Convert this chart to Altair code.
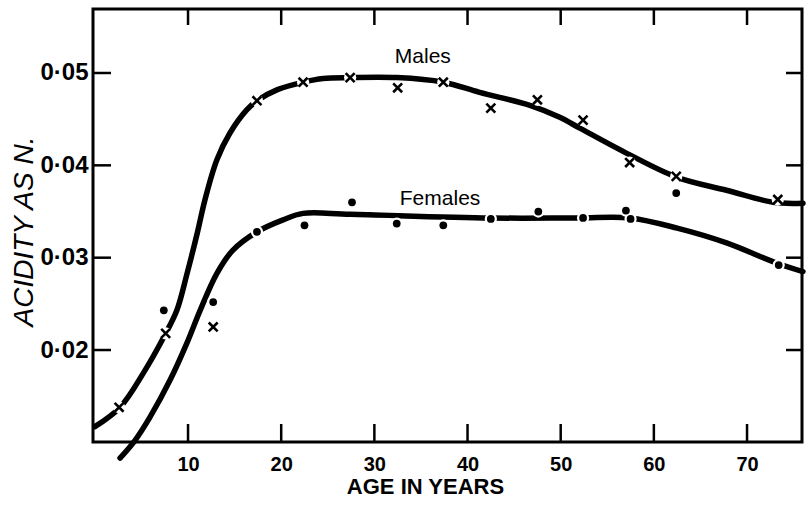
import altair as alt
import pandas as pd

# ---- data ----
male_age = [2.6, 7.6, 12.7, 17.4, 22.35, 27.4, 32.5, 37.4, 42.5, 47.5, 52.4, 57.4, 62.4, 73.3]
male_acid = [0.0138, 0.0218, 0.0225, 0.0470, 0.0490, 0.0495, 0.0484, 0.0490, 0.0462, 0.0471,
             0.0449, 0.0403, 0.0388, 0.0363]

female_age = [7.4, 12.7, 17.4, 22.5, 27.6, 32.4, 37.4, 42.5, 47.6, 52.4, 57.0, 57.5, 62.4, 73.4]
female_acid = [0.0243, 0.0252, 0.0328, 0.0335, 0.0360, 0.0337, 0.0335, 0.0342, 0.0350, 0.0343,
               0.0351, 0.0342, 0.0370, 0.0292]

male_curve_age = [0.0, 2.7, 5.2, 7.5, 8.8, 9.9, 11.0, 11.8, 13.1, 14.5, 16.3, 17.4, 19.6, 22.35,
                  24.5, 27.4, 32.4, 37.4, 41.3, 46.7, 49.9, 52.1, 57.1, 62.5, 67.8, 72.8, 76.0]
male_curve_acid = [0.0117, 0.0138, 0.0175, 0.0216, 0.0243, 0.0283, 0.0327, 0.0362, 0.0406,
                   0.0435, 0.0460, 0.0470, 0.0482, 0.0490, 0.0494, 0.0495, 0.0495, 0.0490,
                   0.0479, 0.0465, 0.0452, 0.0440, 0.0413, 0.0387, 0.0373, 0.0360, 0.0359]

female_curve_age = [2.7, 4.3, 5.9, 8.1, 9.9, 11.3, 13.1, 14.8, 17.4, 20.2, 22.35, 27.4, 42.4,
                    51.8, 57.4, 62.5, 67.8, 73.2, 76.0]
female_curve_acid = [0.0083, 0.0102, 0.0127, 0.0168, 0.0208, 0.0243, 0.0283, 0.0308, 0.0328,
                     0.0341, 0.0348, 0.0347, 0.0343, 0.0343, 0.0343, 0.0332, 0.0316, 0.0294,
                     0.0285]

x_ticks = [10, 20, 30, 40, 50, 60, 70]
y_ticks = [0.02, 0.03, 0.04, 0.05]

series_labels = ["Males", "Females"]
label_age = [35.2, 37.05]
label_acid = [0.0517, 0.03635]

# ---- tables ----
curves = pd.concat([
    pd.DataFrame({"x": male_curve_age, "y": male_curve_acid, "s": "Males"}),
    pd.DataFrame({"x": female_curve_age, "y": female_curve_acid, "s": "Females"}),
])
males = pd.DataFrame({"x": male_age, "y": male_acid})
females = pd.DataFrame({"x": female_age, "y": female_acid})
allpts = pd.concat([males, females])
labels = pd.DataFrame({"x": label_age, "y": label_acid, "t": series_labels})
xt = pd.DataFrame({"x": x_ticks})
yt = pd.DataFrame({"y": y_ticks})

W, H = 709, 433
FONT = "Liberation Sans, Arial, sans-serif"

xscale = alt.Scale(domain=[-0.2, 75.9], nice=False, zero=False)
yscale = alt.Scale(domain=[0.01004, 0.05693], nice=False, zero=False)

xaxis = alt.Axis(values=x_ticks, format="d", ticks=False, domain=False, grid=False,
                 labelFont=FONT, labelFontSize=20, labelFontWeight="bold",
                 labelColor="black", labelPadding=12,
                 title="AGE IN YEARS", titleFont=FONT, titleFontSize=22,
                 titleFontWeight="bold", titleColor="black",
                 titleX=332, titleY=51, titleBaseline="alphabetic", titleAlign="center")
yaxis = alt.Axis(values=y_ticks, format=".2f", labelExpr="replace(datum.label, '.', '·')",
                 ticks=False, domain=False, grid=False,
                 labelFont=FONT, labelFontSize=24, labelFontWeight="bold",
                 labelColor="black", labelPadding=5,
                 title="ACIDITY AS N.", titleFont=FONT, titleFontSize=28,
                 titleFontWeight="normal", titleFontStyle="italic", titleColor="black",
                 titleX=-69, titleY=222, titleAngle=270, titleAlign="center",
                 titleBaseline="middle")

X = lambda f="x": alt.X(f"{f}:Q", scale=xscale, axis=xaxis)
Y = lambda f="y": alt.Y(f"{f}:Q", scale=yscale, axis=yaxis)

lines = alt.Chart(curves).mark_line(color="black", strokeWidth=5.5, interpolate="catmull-rom",
                                    strokeCap="round").encode(
    x=X(), y=Y(), detail="s:N")

halo = alt.Chart(allpts).mark_point(shape="circle", filled=True, color="white",
                                     opacity=1, size=150).encode(x=X(), y=Y())

crosses = alt.Chart(males).mark_point(shape="M-1,-1L1,1M1,-1L-1,1", filled=False,
                                       color="black", strokeWidth=2.6, size=80,
                                       opacity=1).encode(x=X(), y=Y())

dots = alt.Chart(females).mark_point(shape="circle", filled=True, color="black",
                                      size=60, opacity=1).encode(x=X(), y=Y())

text = alt.Chart(labels).mark_text(font=FONT, fontSize=21, color="black",
                                   align="center", baseline="middle").encode(
    x=X(), y=Y(), text="t:N")

tick_b = alt.Chart(xt).mark_rule(color="black", strokeWidth=2.5).encode(
    x=X(), y=alt.value(H), y2=alt.value(H - 18))
tick_t = alt.Chart(xt).mark_rule(color="black", strokeWidth=2.5).encode(
    x=X(), y=alt.value(0), y2=alt.value(16))
tick_l = alt.Chart(yt).mark_rule(color="black", strokeWidth=2.5).encode(
    y=Y(), x=alt.value(0), x2=alt.value(18))
tick_r = alt.Chart(yt).mark_rule(color="black", strokeWidth=2.5).encode(
    y=Y(), x=alt.value(W), x2=alt.value(W - 16))

chart = alt.layer(tick_b, tick_t, tick_l, tick_r, lines, halo, crosses, dots, text).properties(
    width=W, height=H,
    autosize=alt.AutoSizeParams(type="none"),
    padding={"left": 93, "top": 9, "right": 6, "bottom": 63},
    background="white",
).configure_view(stroke="black", strokeWidth=3)

chart.save("out.html", embed_options={"renderer": "svg", "actions": False})
